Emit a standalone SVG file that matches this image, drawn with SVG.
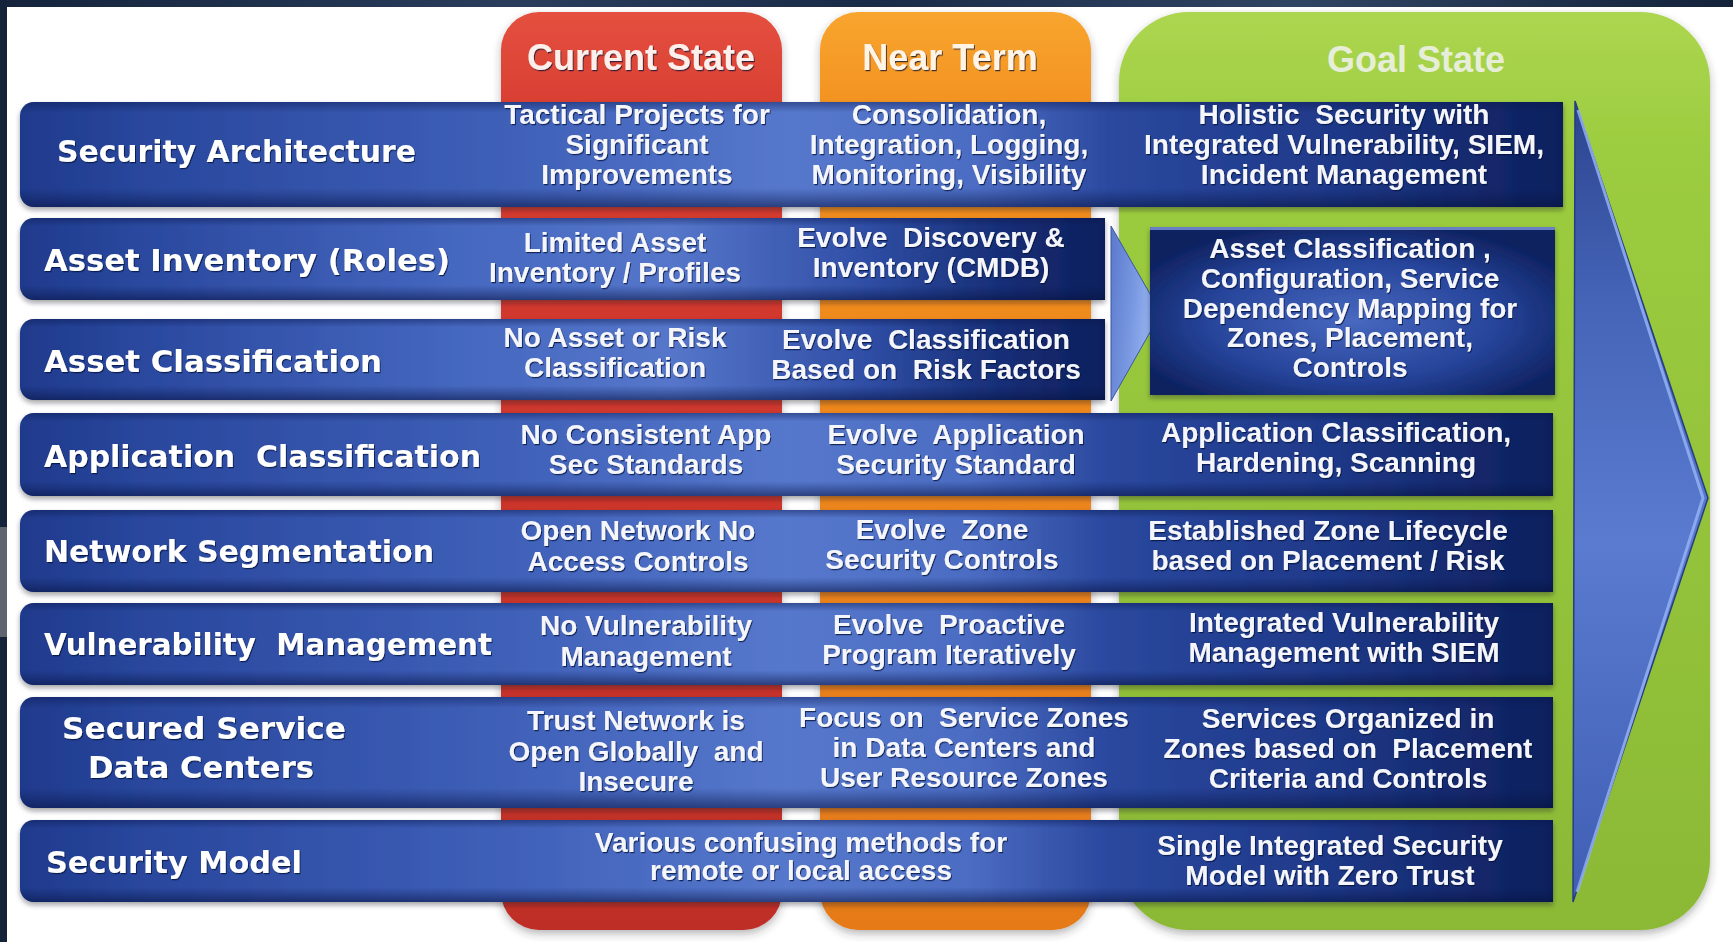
<svg xmlns="http://www.w3.org/2000/svg" width="1733" height="942" viewBox="0 0 1733 942">
  <style>
    .lbl { font-family: "DejaVu Sans", Verdana, sans-serif; font-weight: bold; font-size: 30px; fill: #ffffff; }
    .cell { font-family: "Liberation Sans", Arial, sans-serif; font-weight: bold; font-size: 28px; fill: #f4f6fc; text-anchor: middle; }
    .hdr { font-family: "Liberation Sans", Arial, sans-serif; font-weight: bold; font-size: 36px; text-anchor: middle; }
  </style>
  <defs>
    <linearGradient id="gRed" x1="0" y1="0" x2="0" y2="1">
      <stop offset="0" stop-color="#e4503f"/>
      <stop offset="0.12" stop-color="#d73c30"/>
      <stop offset="1" stop-color="#bf2f27"/>
    </linearGradient>
    <linearGradient id="gOrange" x1="0" y1="0" x2="0" y2="1">
      <stop offset="0" stop-color="#f8a52e"/>
      <stop offset="0.12" stop-color="#f28f20"/>
      <stop offset="1" stop-color="#e57a19"/>
    </linearGradient>
    <linearGradient id="gGreen" x1="0" y1="0" x2="0" y2="1">
      <stop offset="0" stop-color="#acd650"/>
      <stop offset="0.15" stop-color="#9ccc3f"/>
      <stop offset="1" stop-color="#8bb936"/>
    </linearGradient>
    <linearGradient id="gRowLong" x1="0" y1="0" x2="1" y2="0">
      <stop offset="0" stop-color="#1f3a8c"/>
      <stop offset="0.08" stop-color="#29479d"/>
      <stop offset="0.3" stop-color="#3d5eb6"/>
      <stop offset="0.5" stop-color="#5678cc"/>
      <stop offset="0.62" stop-color="#4b6cc2"/>
      <stop offset="0.71" stop-color="#2a489e"/>
      <stop offset="0.85" stop-color="#1f3989"/>
      <stop offset="1" stop-color="#0d1f5c"/>
    </linearGradient>
    <linearGradient id="gRowShort" x1="0" y1="0" x2="1" y2="0">
      <stop offset="0" stop-color="#1f3a8c"/>
      <stop offset="0.1" stop-color="#29479d"/>
      <stop offset="0.4" stop-color="#4567bf"/>
      <stop offset="0.6" stop-color="#5576ca"/>
      <stop offset="0.78" stop-color="#2f4ea5"/>
      <stop offset="0.9" stop-color="#182f78"/>
      <stop offset="1" stop-color="#0d1f5c"/>
    </linearGradient>
    <linearGradient id="gRowShade" x1="0" y1="0" x2="0" y2="1">
      <stop offset="0" stop-color="#0a1850" stop-opacity="0.45"/>
      <stop offset="0.1" stop-color="#0a1850" stop-opacity="0"/>
      <stop offset="0.82" stop-color="#0a1850" stop-opacity="0"/>
      <stop offset="1" stop-color="#06113e" stop-opacity="0.55"/>
    </linearGradient>
    <radialGradient id="gGoalBox" cx="0.5" cy="0.55" r="0.6">
      <stop offset="0" stop-color="#4869c0"/>
      <stop offset="0.6" stop-color="#26449a"/>
      <stop offset="1" stop-color="#0e215f"/>
    </radialGradient>
    <linearGradient id="gChevron" x1="0" y1="0" x2="1" y2="0.3">
      <stop offset="0" stop-color="#5a78cc"/>
      <stop offset="0.55" stop-color="#7b9ae2"/>
      <stop offset="1" stop-color="#a0bcf4"/>
    </linearGradient>
    <linearGradient id="gArrow" x1="0" y1="0" x2="0" y2="1">
      <stop offset="0" stop-color="#2c448e"/>
      <stop offset="0.25" stop-color="#4564b8"/>
      <stop offset="0.55" stop-color="#5a7bd0"/>
      <stop offset="1" stop-color="#3f5eb4"/>
    </linearGradient>
    <linearGradient id="gTopBand" x1="0" y1="0" x2="1" y2="0">
      <stop offset="0" stop-color="#15243c"/>
      <stop offset="0.3" stop-color="#2a3d5c"/>
      <stop offset="0.5" stop-color="#1a2b47"/>
      <stop offset="0.75" stop-color="#304563"/>
      <stop offset="1" stop-color="#14223a"/>
    </linearGradient>
    <filter id="shadow" x="-5%" y="-20%" width="110%" height="150%">
      <feDropShadow dx="0" dy="3" stdDeviation="2.5" flood-color="#1a1a2a" flood-opacity="0.4"/>
    </filter>
    <filter id="colShadow" x="-5%" y="-5%" width="110%" height="110%">
      <feDropShadow dx="0" dy="4" stdDeviation="4" flood-color="#333333" flood-opacity="0.35"/>
    </filter>
    <filter id="ts" x="-5%" y="-20%" width="110%" height="150%">
      <feDropShadow dx="1" dy="1.2" stdDeviation="0.7" flood-color="#061238" flood-opacity="0.75"/>
    </filter>
  </defs>

  <!-- page -->
  <rect x="0" y="0" width="1733" height="942" fill="#ffffff"/>
  <rect x="0" y="0" width="1733" height="7" fill="url(#gTopBand)"/>
  <rect x="0" y="0" width="7" height="942" fill="#14223a"/>
  <rect x="0" y="527" width="7" height="110" fill="#5e656f"/>

  <!-- stage columns -->
  <g id="col-current">
    <rect x="501" y="12" width="281" height="918" rx="38" fill="url(#gRed)" filter="url(#colShadow)"/>
    <text class="hdr" x="641" y="70" fill="#fdf0ec" filter="url(#ts)">Current State</text>
  </g>
  <g id="col-near">
    <rect x="820" y="12" width="271" height="918" rx="38" fill="url(#gOrange)" filter="url(#colShadow)"/>
    <text class="hdr" x="950" y="70" fill="#fff4e6" filter="url(#ts)">Near Term</text>
  </g>
  <g id="col-goal">
    <rect x="1119" y="12" width="591" height="918" rx="70" fill="url(#gGreen)" filter="url(#colShadow)"/>
    <text class="hdr" x="1416" y="72" fill="#e6eed8">Goal State</text>
  </g>

  <!-- progression arrows -->
  <g id="arrows">
    <polygon points="1575,101 1708,498 1573,902" fill="url(#gArrow)" stroke="#263d80" stroke-width="1.5"/>
    <polyline points="1578,110 1703,498 1577,892" fill="none" stroke="#93b2f3" stroke-width="3" opacity="0.85"/>
    <polygon points="1111,226 1161,313 1111,401" fill="url(#gChevron)" stroke="#3a56a6" stroke-width="1"/>
  </g>

  <!-- Security Architecture -->
  <g id="row-security-architecture">
    <path d="M34,102 H1563 V207 H34 A14,14 0 0 1 20,193 V116 A14,14 0 0 1 34,102 Z" fill="url(#gRowLong)" filter="url(#shadow)"/>
    <path d="M34,102 H1563 V207 H34 A14,14 0 0 1 20,193 V116 A14,14 0 0 1 34,102 Z" fill="url(#gRowShade)"/>
    <g filter="url(#ts)">
      <text class="lbl" x="57" y="162" textLength="359" lengthAdjust="spacingAndGlyphs">Security Architecture</text>
      <text class="cell" x="637" y="123.5">Tactical Projects for</text>
      <text class="cell" x="637" y="153.5">Significant</text>
      <text class="cell" x="637" y="184">Improvements</text>
      <text class="cell" x="949" y="123.5">Consolidation,</text>
      <text class="cell" x="949" y="153.5">Integration, Logging,</text>
      <text class="cell" x="949" y="184">Monitoring, Visibility</text>
      <text class="cell" x="1344" y="123.5" xml:space="preserve">Holistic  Security with</text>
      <text class="cell" x="1344" y="153.5">Integrated Vulnerability, SIEM,</text>
      <text class="cell" x="1344" y="184">Incident Management</text>
    </g>
  </g>

  <!-- Asset Inventory (Roles) -->
  <g id="row-asset-inventory">
    <path d="M34,218 H1105 V300 H34 A14,14 0 0 1 20,286 V232 A14,14 0 0 1 34,218 Z" fill="url(#gRowShort)" filter="url(#shadow)"/>
    <path d="M34,218 H1105 V300 H34 A14,14 0 0 1 20,286 V232 A14,14 0 0 1 34,218 Z" fill="url(#gRowShade)"/>
    <g filter="url(#ts)">
      <text class="lbl" x="44" y="271" textLength="406" lengthAdjust="spacingAndGlyphs">Asset Inventory (Roles)</text>
      <text class="cell" x="615" y="252">Limited Asset</text>
      <text class="cell" x="615" y="282">Inventory / Profiles</text>
      <text class="cell" x="931" y="247" xml:space="preserve">Evolve  Discovery &amp;</text>
      <text class="cell" x="931" y="277">Inventory (CMDB)</text>
    </g>
  </g>

  <!-- Asset Classification -->
  <g id="row-asset-classification">
    <path d="M34,319 H1105 V400 H34 A14,14 0 0 1 20,386 V333 A14,14 0 0 1 34,319 Z" fill="url(#gRowShort)" filter="url(#shadow)"/>
    <path d="M34,319 H1105 V400 H34 A14,14 0 0 1 20,386 V333 A14,14 0 0 1 34,319 Z" fill="url(#gRowShade)"/>
    <g filter="url(#ts)">
      <text class="lbl" x="44" y="372" textLength="338" lengthAdjust="spacingAndGlyphs">Asset Classification</text>
      <text class="cell" x="615" y="347">No Asset or Risk</text>
      <text class="cell" x="615" y="377">Classification</text>
      <text class="cell" x="926" y="349" xml:space="preserve">Evolve  Classification</text>
      <text class="cell" x="926" y="379" xml:space="preserve">Based on  Risk Factors</text>
    </g>
  </g>

  <!-- shared goal for inventory and classification -->
  <g id="goal-asset-mapping">
    <rect x="1150" y="227" width="405" height="168" fill="url(#gGoalBox)" filter="url(#shadow)"/>
    <rect x="1150" y="227" width="405" height="3" fill="#7d98dc" opacity="0.8"/>
    <g filter="url(#ts)">
      <text class="cell" x="1350" y="258" xml:space="preserve">Asset Classification ,</text>
      <text class="cell" x="1350" y="288">Configuration, Service</text>
      <text class="cell" x="1350" y="318">Dependency Mapping for</text>
      <text class="cell" x="1350" y="347">Zones, Placement,</text>
      <text class="cell" x="1350" y="377">Controls</text>
    </g>
  </g>

  <!-- Application Classification -->
  <g id="row-application-classification">
    <path d="M34,413 H1553 V496 H34 A14,14 0 0 1 20,482 V427 A14,14 0 0 1 34,413 Z" fill="url(#gRowLong)" filter="url(#shadow)"/>
    <path d="M34,413 H1553 V496 H34 A14,14 0 0 1 20,482 V427 A14,14 0 0 1 34,413 Z" fill="url(#gRowShade)"/>
    <g filter="url(#ts)">
      <text class="lbl" x="44" y="467" textLength="437" lengthAdjust="spacingAndGlyphs" xml:space="preserve">Application  Classification</text>
      <text class="cell" x="646" y="444">No Consistent App</text>
      <text class="cell" x="646" y="474">Sec Standards</text>
      <text class="cell" x="956" y="444" xml:space="preserve">Evolve  Application</text>
      <text class="cell" x="956" y="474">Security Standard</text>
      <text class="cell" x="1336" y="442">Application Classification,</text>
      <text class="cell" x="1336" y="472">Hardening, Scanning</text>
    </g>
  </g>

  <!-- Network Segmentation -->
  <g id="row-network-segmentation">
    <path d="M34,510 H1553 V592 H34 A14,14 0 0 1 20,578 V524 A14,14 0 0 1 34,510 Z" fill="url(#gRowLong)" filter="url(#shadow)"/>
    <path d="M34,510 H1553 V592 H34 A14,14 0 0 1 20,578 V524 A14,14 0 0 1 34,510 Z" fill="url(#gRowShade)"/>
    <g filter="url(#ts)">
      <text class="lbl" x="44" y="562" textLength="390" lengthAdjust="spacingAndGlyphs">Network Segmentation</text>
      <text class="cell" x="638" y="540">Open Network No</text>
      <text class="cell" x="638" y="571">Access Controls</text>
      <text class="cell" x="942" y="539" xml:space="preserve">Evolve  Zone</text>
      <text class="cell" x="942" y="569">Security Controls</text>
      <text class="cell" x="1328" y="540">Established Zone Lifecycle</text>
      <text class="cell" x="1328" y="570">based on Placement / Risk</text>
    </g>
  </g>

  <!-- Vulnerability Management -->
  <g id="row-vulnerability-management">
    <path d="M34,603 H1553 V685 H34 A14,14 0 0 1 20,671 V617 A14,14 0 0 1 34,603 Z" fill="url(#gRowLong)" filter="url(#shadow)"/>
    <path d="M34,603 H1553 V685 H34 A14,14 0 0 1 20,671 V617 A14,14 0 0 1 34,603 Z" fill="url(#gRowShade)"/>
    <g filter="url(#ts)">
      <text class="lbl" x="44" y="655" textLength="448" lengthAdjust="spacingAndGlyphs" xml:space="preserve">Vulnerability  Management</text>
      <text class="cell" x="646" y="635">No Vulnerability</text>
      <text class="cell" x="646" y="666">Management</text>
      <text class="cell" x="949" y="634" xml:space="preserve">Evolve  Proactive</text>
      <text class="cell" x="949" y="664">Program Iteratively</text>
      <text class="cell" x="1344" y="632">Integrated Vulnerability</text>
      <text class="cell" x="1344" y="662">Management with SIEM</text>
    </g>
  </g>

  <!-- Secured Service Data Centers -->
  <g id="row-secured-service">
    <path d="M34,697 H1553 V808 H34 A14,14 0 0 1 20,794 V711 A14,14 0 0 1 34,697 Z" fill="url(#gRowLong)" filter="url(#shadow)"/>
    <path d="M34,697 H1553 V808 H34 A14,14 0 0 1 20,794 V711 A14,14 0 0 1 34,697 Z" fill="url(#gRowShade)"/>
    <g filter="url(#ts)">
      <text class="lbl" x="62" y="739" textLength="284" lengthAdjust="spacingAndGlyphs">Secured Service</text>
      <text class="lbl" x="88" y="778" textLength="226" lengthAdjust="spacingAndGlyphs">Data Centers</text>
      <text class="cell" x="636" y="730">Trust Network is</text>
      <text class="cell" x="636" y="761" xml:space="preserve">Open Globally  and</text>
      <text class="cell" x="636" y="791">Insecure</text>
      <text class="cell" x="964" y="727" xml:space="preserve">Focus on  Service Zones</text>
      <text class="cell" x="964" y="757">in Data Centers and</text>
      <text class="cell" x="964" y="787">User Resource Zones</text>
      <text class="cell" x="1348" y="728">Services Organized in</text>
      <text class="cell" x="1348" y="758" xml:space="preserve">Zones based on  Placement</text>
      <text class="cell" x="1348" y="788">Criteria and Controls</text>
    </g>
  </g>

  <!-- Security Model -->
  <g id="row-security-model">
    <path d="M34,820 H1553 V902 H34 A14,14 0 0 1 20,888 V834 A14,14 0 0 1 34,820 Z" fill="url(#gRowLong)" filter="url(#shadow)"/>
    <path d="M34,820 H1553 V902 H34 A14,14 0 0 1 20,888 V834 A14,14 0 0 1 34,820 Z" fill="url(#gRowShade)"/>
    <g filter="url(#ts)">
      <text class="lbl" x="46" y="873" textLength="256" lengthAdjust="spacingAndGlyphs">Security Model</text>
      <text class="cell" x="801" y="852">Various confusing methods for</text>
      <text class="cell" x="801" y="880">remote or local access</text>
      <text class="cell" x="1330" y="855">Single Integrated Security</text>
      <text class="cell" x="1330" y="885">Model with Zero Trust</text>
    </g>
  </g>
</svg>
